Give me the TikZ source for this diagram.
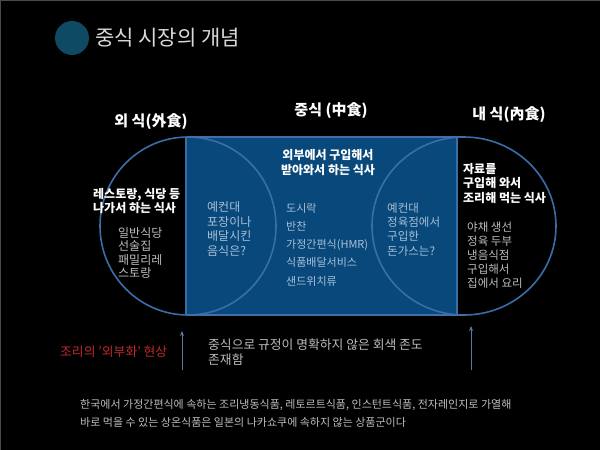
\documentclass[tikz,border=0pt]{standalone}
\usepackage{fontspec}
\setmainfont{Noto Sans CJK KR}
\usetikzlibrary{arrows.meta}
\definecolor{fillblue}{HTML}{08487A}
\definecolor{outl}{HTML}{3F70AA}
\definecolor{innl}{HTML}{3A6EA8}
\definecolor{titlecirc}{HTML}{0E4A63}
\definecolor{titletxt}{HTML}{D9D9D9}
\definecolor{graytxt}{HTML}{BDBDBD}
\definecolor{bluetxt}{HTML}{A9C0D8}
\definecolor{redtxt}{HTML}{C0282A}
\definecolor{arrcol}{HTML}{5A7AA0}
\definecolor{edge}{HTML}{4A4A4A}
\tikzset{
  hd/.style={font=\fontsize{15}{18}\selectfont\bfseries, text=white, inner sep=0pt},
  bw/.style={font=\fontsize{12}{14.5}\selectfont\bfseries, text=white, align=left, anchor=west, inner sep=0pt},
  glist/.style={font=\fontsize{12}{13.6}\selectfont, text=graytxt, align=left, anchor=west, inner sep=0pt},
  blist/.style={font=\fontsize{12}{14.6}\selectfont, text=bluetxt, align=left, anchor=west, inner sep=0pt},
  outline/.style={draw=outl, line width=1.8pt},
  inline/.style={draw=innl, line width=1.6pt},
  arr/.style={draw=arrcol, line width=0.8pt, -{Stealth[length=5pt,width=4pt]}}
}
\begin{document}
\begin{tikzpicture}[x=1pt,y=-1pt]
\fill[black] (0,0) rectangle (600,450);
\useasboundingbox (0,0) rectangle (600,450);
\draw[edge, line width=1pt] (0,450) -- (0,0.5) -- (600,0.5);
% title
\fill[titlecirc] (72,38) circle[radius=17pt];
\node[anchor=west, inner sep=0pt, text=titletxt, font=\fontsize{21}{24}\selectfont] (title) at (95,38) {중식 시장의 개념};
% blue area
\fill[fillblue] (186,137) rectangle (457,315);
\draw[inline] (186,137) -- (186,315);
\draw[inline] (457,137) -- (457,315);
\draw[inline] (188,226) ellipse[x radius=88pt, y radius=89pt];
\draw[inline] (464,226) ellipse[x radius=92pt, y radius=89pt];
\draw[outline] (188,137) -- (464,137);
\draw[outline] (188,315) -- (464,315);
% headers
\node[hd] (hout) at (151,122) {외 식(外食)};
\node[hd] (hmid) at (331,111) {중식 (中食)};
\node[hd] (hin) at (509,115) {내 식(內食)};
% left
\node[bw] (lout) at (93,201) {레스토랑, 식당 등\\나가서 하는 식사};
\node[glist] (lex) at (118,253) {일반식당\\선술집\\패밀리레\\스토랑};
\node[blist] (lq) at (207,229) {예컨대\\포장이나\\배달시킨\\음식은?};
% middle
\node[font=\fontsize{12}{15}\selectfont\bfseries, text=white, align=center, inner sep=0pt] (mid) at (328,162.5) {외부에서 구입해서\\받아와서 하는 식사};
\node[font=\fontsize{11}{18.3}\selectfont, text=bluetxt, align=left, anchor=west, inner sep=0pt] (mlist) at (286,244.5) {도시락\\반찬\\가정간편식(HMR)\\식품배달서비스\\샌드위치류};
\node[font=\fontsize{11.5}{14.3}\selectfont, text=bluetxt, align=left, anchor=west, inner sep=0pt] (rq) at (387,229.5) {예컨대\\정육점에서\\구입한\\돈가스는?};
% right
\node[bw] (rin) at (463,183.5) {자료를\\구입해 와서\\조리해 먹는 식사};
\node[font=\fontsize{11.5}{14}\selectfont, text=graytxt, align=left, anchor=west, inner sep=0pt] (rex) at (467,255) {야채 생선\\정육 두부\\냉음식점\\구입해서\\집에서 요리};
% bottom
\node[anchor=west, inner sep=0pt, text=redtxt, font=\fontsize{12.8}{15}\selectfont] (red) at (60,352) {조리의 '외부화' 현상};
\coordinate (a1s) at (182,370);
\coordinate (a1e) at (182,331);
\coordinate (a2s) at (471,370);
\coordinate (a2e) at (471,326);
\draw[arr] (a1s) -- (a1e);
\draw[arr] (a2s) -- (a2e);
\node[anchor=west, inner sep=0pt, text=graytxt, align=left, font=\fontsize{12.8}{15}\selectfont] (grey) at (208,352.5) {중식으로 규정이 명확하지 않은 회색 존도\\존재함};
\node[anchor=west, inner sep=0pt, text=graytxt, align=left, font=\fontsize{11}{18}\selectfont] (foot) at (80,413) {한국에서 가정간편식에 속하는 조리냉동식품, 레토르트식품, 인스턴트식품, 전자레인지로 가열해\\바로 먹을 수 있는 상온식품은 일본의 나카쇼쿠에 속하지 않는 상품군이다};
\end{tikzpicture}
\end{document}
